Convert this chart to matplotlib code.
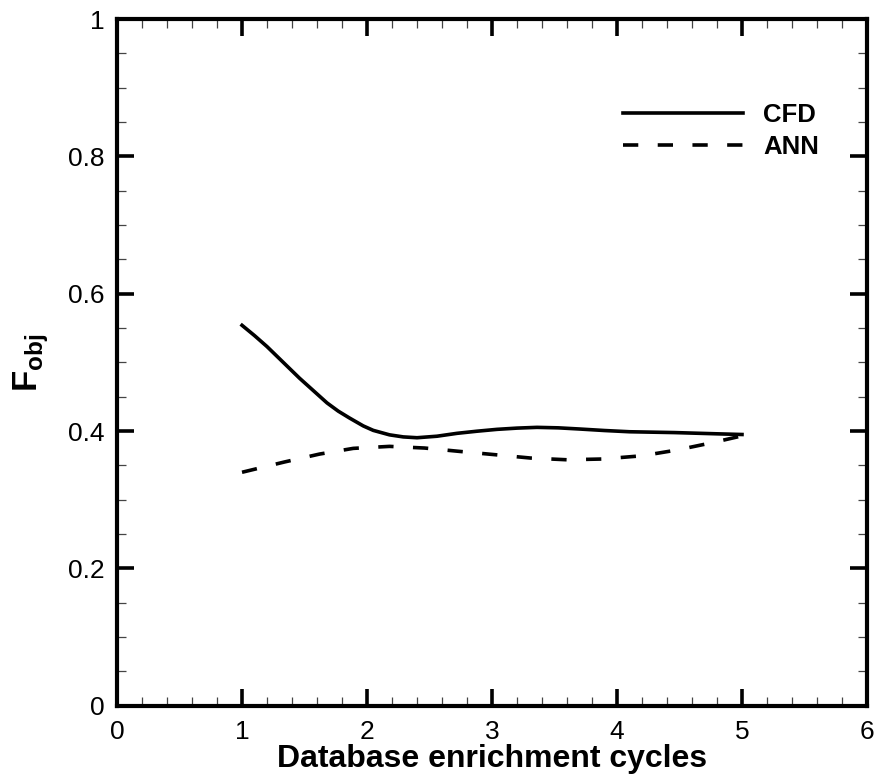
import matplotlib
matplotlib.use("Agg")
import matplotlib.pyplot as plt
from matplotlib.ticker import MultipleLocator

plt.rcParams["font.family"] = ["Liberation Sans", "DejaVu Sans"]
plt.rcParams["mathtext.fontset"] = "custom"
plt.rcParams["mathtext.bf"] = "Liberation Sans:bold"
plt.rcParams["lines.scale_dashes"] = False

# values
cfd_x = [1.0, 1.1, 1.2, 1.33, 1.46, 1.57, 1.68, 1.77, 1.86, 1.97, 2.05, 2.18,
         2.29, 2.4, 2.56, 2.72, 2.88, 3.04, 3.2, 3.36, 3.53, 3.7, 3.9, 4.1,
         4.46, 4.8, 5.0]
cfd_y = [0.554, 0.539, 0.523, 0.500, 0.477, 0.459, 0.441, 0.429, 0.419, 0.4075,
         0.4010, 0.3945, 0.3915, 0.3903, 0.3925, 0.3967, 0.3998, 0.4025, 0.4043,
         0.4054, 0.4047, 0.4030, 0.4008, 0.3990, 0.3978, 0.3960, 0.395]

ann_x = [1.0, 1.34, 1.62, 1.89, 2.18, 2.46, 2.74, 3.03, 3.31, 3.6, 3.88, 4.2,
         4.48, 4.76, 5.0]
ann_y = [0.340, 0.355, 0.3665, 0.3748, 0.3777, 0.3753, 0.3704, 0.3655, 0.3607,
         0.3582, 0.3593, 0.364, 0.3724, 0.383, 0.393]

yticks = [0, 0.2, 0.4, 0.6, 0.8, 1.0]
ytick_labels = ["0", "0.2", "0.4", "0.6", "0.8", "1"]

fig = plt.figure(figsize=(8.76, 7.76), dpi=100)
ax = fig.add_axes([0.1336, 0.0905, 0.9897 - 0.1336, 0.9755 - 0.0905])

ax.plot(cfd_x, cfd_y, color="black", lw=2.6, label="CFD", solid_joinstyle="round")
ax.plot(ann_x, ann_y, color="black", lw=2.6, dashes=(11, 14), label="ANN")

ax.set_xlim(0, 6)
ax.set_ylim(0, 1)
ax.xaxis.set_major_locator(MultipleLocator(1))
ax.xaxis.set_minor_locator(MultipleLocator(0.2))
ax.yaxis.set_minor_locator(MultipleLocator(0.05))
ax.set_yticks(yticks)
ax.set_yticklabels(ytick_labels)

for s in ax.spines.values():
    s.set_linewidth(3)

ax.tick_params(which="major", direction="in", length=12, width=2.6,
               top=True, right=True, labelsize=19)
ax.tick_params(axis="y", which="major", pad=9)
ax.tick_params(axis="x", which="major", pad=10)
ax.tick_params(which="minor", direction="in", length=6.5, width=0.9,
               top=True, right=True, color="#444444")

ax.set_xlabel("Database enrichment cycles", fontsize=23, fontweight="bold", labelpad=0)
ax.set_ylabel(r"$\mathbf{F}_{\mathbf{obj}}$", fontsize=25)
ax.yaxis.set_label_coords(-0.088, 0.5)

leg = ax.legend(loc="upper left", bbox_to_anchor=(0.6747, 0.877), frameon=False,
                borderpad=0, borderaxespad=0,
                handlelength=4.67, handletextpad=0.78, labelspacing=0.3,
                prop={"size": 18.5, "weight": "bold"})

fig.savefig("out.png", dpi=100)
